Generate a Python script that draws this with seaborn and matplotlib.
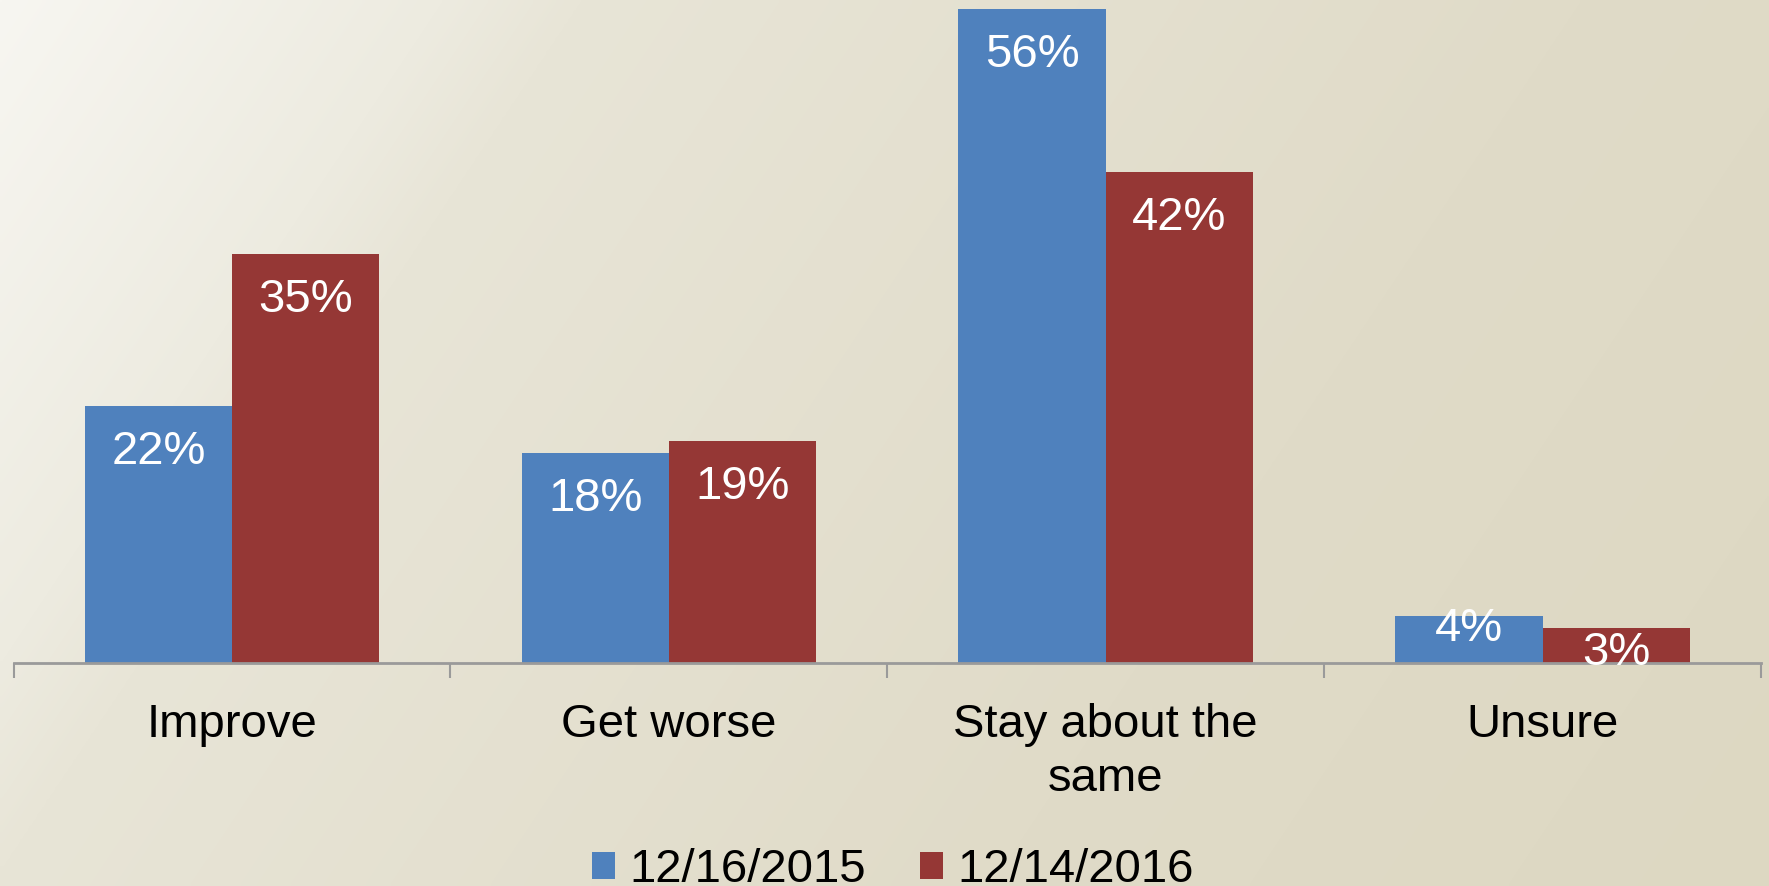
import numpy as np
import pandas as pd
import matplotlib
matplotlib.use("Agg")
import matplotlib.pyplot as plt
import seaborn as sns
from matplotlib.patches import Patch
from matplotlib.ticker import FixedLocator

# ---- data ----
categories = ["Improve", "Get worse", "Stay about the\nsame", "Unsure"]
series_names = ["12/16/2015", "12/14/2016"]
values_2015 = [22, 18, 56, 4]
values_2016 = [35, 19, 42, 3]

# ---- style ----
colors = ["#4F81BD", "#953735"]
FS = 34
W, H = 1769, 886

sns.set_theme(style="white")
plt.rcParams["font.family"] = ["Liberation Sans", "DejaVu Sans"]
plt.rcParams["text.color"] = "black"

df = pd.DataFrame({
    "category": categories * 2,
    "series": [series_names[0]] * 4 + [series_names[1]] * 4,
    "value": values_2015 + values_2016,
})

fig = plt.figure(figsize=(W / 100, H / 100), dpi=100)

# background gradient
bg = fig.add_axes([0, 0, 1, 1], zorder=0)
xx, yy = np.meshgrid(np.linspace(0, 1, 400), np.linspace(0, 1, 200))
t = 0.75 * xx + 0.25 * yy
stops = [0, 0.187, 0.245, 0.67, 1.0]
cols = np.array([[247, 246, 241], [237, 235, 224], [232, 229, 215],
                 [224, 219, 200], [221, 216, 194]]) / 255.0
img = np.stack([np.interp(t, stops, cols[:, k]) for k in range(3)], axis=-1)
bg.imshow(img, aspect="auto", extent=[0, 1, 0, 1], origin="upper", interpolation="bilinear")
bg.set_axis_off()

base_y = 663
left, right = 13.5 / W, 1761 / W
ax = fig.add_axes([left, (H - base_y) / H, right - left, base_y / H], zorder=1)
ax.patch.set_alpha(0)

sns.barplot(data=df, x="category", y="value", hue="series", palette=colors,
            width=0.674, gap=0, dodge=True, saturation=1, legend=False, ax=ax,
            linewidth=0)

ymax = base_y / 11.68
ax.set_ylim(0, ymax)
ax.set_xlim(-0.5, len(categories) - 0.5)
ax.set_xlabel("")
ax.set_ylabel("")
ax.set_yticks([])
for s in ["top", "right", "left"]:
    ax.spines[s].set_visible(False)
ax.spines["bottom"].set_color("#9A9A9A")
ax.spines["bottom"].set_linewidth(2)
ax.spines["bottom"].set_zorder(5)

ax.set_xticks(range(len(categories)))
ax.set_xticklabels(categories, fontsize=FS, color="black", linespacing=1.3)
ax.tick_params(axis="x", which="major", bottom=True, length=0, pad=29)
ax.xaxis.set_minor_locator(FixedLocator(np.arange(-0.5, len(categories), 1.0)))
ax.tick_params(axis="x", which="minor", bottom=True, length=11, width=1.5,
               color="#9A9A9A", direction="out")

# value labels (baseline offset below bar top, in pixels)
default_drop = 58
small_drop = {4: 25, 3: 37}
for cont in ax.containers:
    for bar in cont:
        v = bar.get_height()
        drop = small_drop.get(int(round(v)), default_drop)
        ax.annotate(f"{int(round(v))}%",
                    xy=(bar.get_x() + bar.get_width() / 2, v),
                    xytext=(0, -drop * 72 / 100), textcoords="offset points",
                    ha="center", va="baseline", color="white", fontsize=FS, zorder=6,
                    annotation_clip=False)

handles = [Patch(facecolor=c, edgecolor="none") for c in colors]
leg = fig.legend(handles, series_names, loc="center", bbox_to_anchor=(893 / W, 16 / H),
                 ncol=2, frameon=False, fontsize=FS, handlelength=0.49, handleheight=0.49,
                 handletextpad=0.3, columnspacing=1.15, borderpad=0, borderaxespad=0)
for txt in leg.get_texts():
    txt.set_color("black")

fig.savefig("out.png", dpi=100)
